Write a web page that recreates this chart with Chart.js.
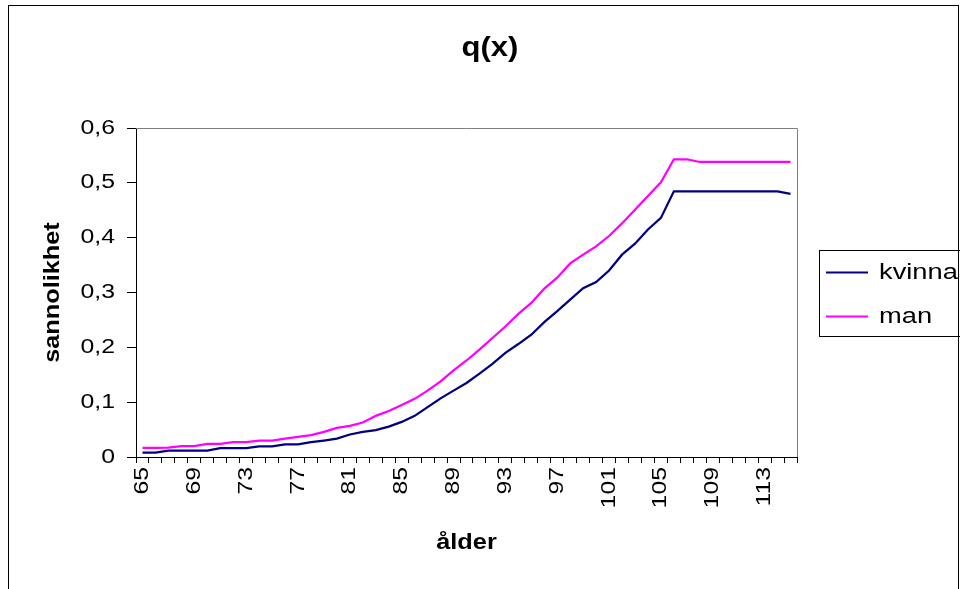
<!DOCTYPE html>
<html><head><meta charset="utf-8">
<script src="https://cdn.jsdelivr.net/npm/chart.js@4"></script>
<style>html,body{margin:0;padding:0;background:#fff}#wrap{width:960px;height:589px}</style>
</head><body><div id="wrap"><canvas id="c" width="960" height="589"></canvas></div>
<script>
const ages = [65,66,67,68,69,70,71,72,73,74,75,76,77,78,79,80,81,82,83,84,85,86,87,88,89,90,91,92,93,94,95,96,97,98,99,100,101,102,103,104,105,106,107,108,109,110,111,112,113,114,115];
const kvinna = [0.008,0.008,0.0116,0.0116,0.0116,0.0116,0.016,0.016,0.016,0.0195,0.0195,0.023,0.023,0.027,0.030,0.0335,0.041,0.0457,0.049,0.0555,0.064,0.075,0.091,0.107,0.121,0.135,0.152,0.170,0.190,0.206,0.223,0.246,0.266,0.287,0.308,0.319,0.340,0.369,0.389,0.415,0.436,0.4845,0.4845,0.4845,0.4845,0.4845,0.4845,0.4845,0.4845,0.4845,0.480];
const man = [0.0165,0.0165,0.017,0.020,0.020,0.024,0.024,0.027,0.027,0.030,0.030,0.0335,0.0366,0.040,0.0457,0.053,0.0567,0.0628,0.075,0.084,0.095,0.106,0.121,0.138,0.158,0.176,0.196,0.217,0.238,0.261,0.281,0.307,0.327,0.353,0.369,0.384,0.403,0.426,0.451,0.476,0.501,0.543,0.543,0.538,0.538,0.538,0.538,0.538,0.538,0.538,0.538];
const seriesNames = ['kvinna','man'];
const seriesColors = ['#000080','#FF00FF'];
const titleText = 'q(x)';
const xTitle = 'ålder';
const yTitle = 'sannolikhet';
const labelEvery = 4;

const FONT = "'Liberation Sans', Arial, sans-serif";

// The reference renders its text slightly widened along the baseline; emulate that.
const canvas = document.getElementById('c');
const ctx2d = canvas.getContext('2d');
const protoFill = CanvasRenderingContext2D.prototype.fillText;
const protoMeasure = CanvasRenderingContext2D.prototype.measureText;
function stretchFor(font) { return /bold/.test(font) ? 1.15 : 1.24; }
ctx2d.fillText = function (t, x, y) {
  const s = stretchFor(this.font);
  this.save();
  this.translate(x, y);
  this.scale(s, 1);
  protoFill.call(this, t, 0, 0);
  this.restore();
};
ctx2d.measureText = function (t) {
  const m = protoMeasure.call(this, t);
  const s = stretchFor(this.font);
  return {
    width: m.width * s,
    actualBoundingBoxAscent: m.actualBoundingBoxAscent,
    actualBoundingBoxDescent: m.actualBoundingBoxDescent,
    actualBoundingBoxLeft: m.actualBoundingBoxLeft * s,
    actualBoundingBoxRight: m.actualBoundingBoxRight * s,
    fontBoundingBoxAscent: m.fontBoundingBoxAscent,
    fontBoundingBoxDescent: m.fontBoundingBoxDescent
  };
};

const deco = {
  id: 'deco',
  beforeLayout(chart) {
    const lg = chart.legend;
    if (lg && !lg._patched) {
      const f = lg.fit;
      lg.fit = function () { f.call(this); this.width = 163; };
      lg._patched = true;
    }
  },
  afterLayout(chart) {
    const lg = chart.legend;
    if (lg) { lg.left += 7; lg.right += 7; lg.top += 2; lg.bottom += 2; }
  },
  beforeDraw(chart) {
    const c = chart.ctx;
    c.save(); c.fillStyle = '#fff'; c.fillRect(0, 0, chart.width, chart.height); c.restore();
  },
  beforeDatasetsDraw(chart) {
    const {ctx, chartArea: a} = chart;
    ctx.save();
    ctx.strokeStyle = '#808080'; ctx.lineWidth = 1;
    ctx.beginPath();
    ctx.moveTo(a.left, Math.round(a.top) + 0.5);
    ctx.lineTo(Math.round(a.right) + 0.5, Math.round(a.top) + 0.5);
    ctx.lineTo(Math.round(a.right) + 0.5, a.bottom);
    ctx.stroke();
    ctx.restore();
  },
  afterDraw(chart) {
    const ctx = chart.ctx;
    ctx.save();
    ctx.strokeStyle = '#000'; ctx.lineWidth = 1;
    ctx.strokeRect(8.5, 5.5, 950, 700);
    ctx.strokeRect(819.5, 250.5, 200, 86);
    ctx.restore();
  }
};

new Chart(canvas, {
  type: 'line',
  data: {
    labels: ages,
    datasets: [
      {label: seriesNames[0], data: kvinna, borderColor: seriesColors[0], backgroundColor: seriesColors[0], borderWidth: 2.25, pointRadius: 0, tension: 0, fill: false},
      {label: seriesNames[1], data: man, borderColor: seriesColors[1], backgroundColor: seriesColors[1], borderWidth: 2.25, pointRadius: 0, tension: 0, fill: false}
    ]
  },
  options: {
    responsive: false,
    animation: false,
    layout: {padding: {left: 20, top: 8, right: 0, bottom: 20}},
    scales: {
      x: {
        type: 'category',
        offset: true,
        grid: {offset: true, drawOnChartArea: false, drawTicks: true, tickLength: 6, color: '#000', lineWidth: 1},
        border: {display: true, color: '#000', width: 1},
        ticks: {
          autoSkip: false, maxRotation: 90, minRotation: 90, padding: 4, color: '#000',
          font: {family: FONT, size: 20},
          callback: (v, i) => (i % labelEvery === 0 ? String(ages[i]) : '')
        },
        title: {display: true, text: xTitle, color: '#000', font: {family: FONT, size: 22, weight: 'bold'}, padding: {top: 0, bottom: 12.5}},
        afterFit: s => { s.height = 112; }
      },
      y: {
        min: 0, max: 0.6,
        grid: {drawOnChartArea: false, drawTicks: true, tickLength: 9, color: '#000'},
        border: {display: true, color: '#000', width: 1},
        ticks: {
          stepSize: 0.1, padding: 12, color: '#000', font: {family: FONT, size: 20},
          callback: v => (Math.abs(v) < 1e-9 ? '0' : v.toFixed(1).replace('.', ','))
        },
        title: {display: true, text: yTitle, color: '#000', font: {family: FONT, size: 22, weight: 'bold'}, padding: {top: 19.5, bottom: 0}},
        afterFit: s => { s.width = 116; }
      }
    },
    plugins: {
      title: {display: true, text: titleText, color: '#000', font: {family: FONT, size: 27, weight: 'bold'}, padding: {top: 24, bottom: 63.6}},
      legend: {
        position: 'right', align: 'center', fullSize: false,
        labels: {
          boxWidth: 42, boxHeight: 2, padding: 22, color: '#000', font: {family: FONT, size: 22},
          generateLabels: chart => chart.data.datasets.map((d, i) => ({
            text: d.label, fillStyle: d.borderColor, strokeStyle: d.borderColor, lineWidth: 0, hidden: false, datasetIndex: i, fontColor: '#000'
          }))
        }
      },
      tooltip: {enabled: false}
    }
  },
  plugins: [deco]
});
</script>
</body></html>
